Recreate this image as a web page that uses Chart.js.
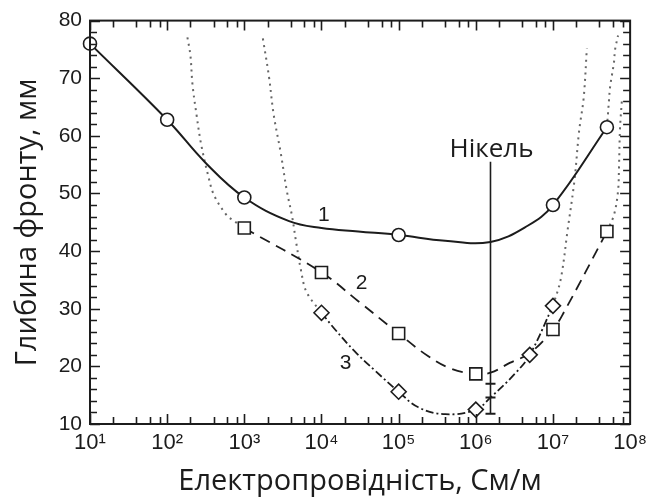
<!DOCTYPE html>
<html>
<head>
<meta charset="utf-8">
<script src="https://cdn.jsdelivr.net/npm/chart.js@4.4.1/dist/chart.umd.min.js"></script>
<style>
  html, body { margin: 0; background: #fff; }
  #wrap { width: 653px; height: 502px; }
</style>
</head>
<body>
<div id="wrap"><canvas id="chart"></canvas></div>
<script>
// axis values
let xDecades = [1e1, 1e2, 1e3, 1e4, 1e5, 1e6, 1e7, 1e8];
let xTickLabels = ['10¹', '10²', '10³', '10⁴', '10⁵', '10⁶', '10⁷', '10⁸'];
let yTickValues = [10, 20, 30, 40, 50, 60, 70, 80];

// curve 1 (circles, solid)
let curve1X = [10, 100, 1e3, 1e5, 1e7, 5e7];
let curve1Y = [76, 62.8, 49.3, 42.8, 48, 61.5];
let curve1LineX = [10, 100, 316, 1e3, 3800, 1e4, 3e4, 1e5, 4e5, 1.55e6, 4.7e6, 1e7, 5e7];
let curve1LineY = [76, 62.8, 55.3, 49.3, 45.2, 44, 43.4, 42.8, 41.8, 41.6, 44.4, 48, 61.5];

// curve 2 (squares, dashed)
let curve2X = [1e3, 1e4, 1e5, 1e6, 1e7, 5e7];
let curve2Y = [44, 36.3, 25.7, 18.7, 26.4, 43.4];
let curve2LineX = [1e3, 1e4, 3e4, 1e5, 2.4e5, 4.8e5, 1e6, 1.55e6, 2.75e6, 5e6, 1e7, 1.4e7, 5e7];
let curve2LineY = [44, 36.3, 31.3, 25.7, 21.8, 19.6, 18.7, 18.9, 20.6, 22.3, 26.4, 29.5, 43.4];

// curve 3 (diamonds, dash-dot)
let curve3X = [1e4, 1e5, 1e6, 5e6, 1e7];
let curve3Y = [29.3, 15.6, 12.5, 22, 30.5];
let curve3LineX = [1e4, 1.5e4, 2.7e4, 5e4, 1e5, 1.8e5, 4e5, 1e6, 1.55e6, 3.2e6, 5e6, 1e7];
let curve3LineY = [29.3, 26.4, 22.6, 19.2, 15.6, 12.9, 11.7, 12.5, 14.6, 18.7, 22, 30.5];

// dotted limit curves
let dotAX = [183, 200, 213, 240, 275, 340, 405, 585, 740, 1e3];
let dotAY = [77.1, 74, 68.9, 63.7, 58.6, 53.1, 49.7, 46.3, 45.2, 44];
let dotBX = [1740, 2090, 2400, 2950, 3550, 4150, 4700, 5400, 6400, 1e4];
let dotBY = [76.9, 70.2, 63.7, 57.2, 50.5, 46.1, 41.5, 36.8, 32.9, 29.3];
let dotCX = [1e7, 1.26e7, 1.55e7, 1.9e7, 2.18e7, 2.5e7, 2.75e7];
let dotCY = [30.5, 35.1, 43.7, 52.3, 60.8, 66.6, 75.2];
let dotDX = [5e7, 5.18e7, 5.33e7, 5.49e7, 5.82e7, 6.18e7, 6.37e7, 6.97e7];
let dotDY = [61.5, 64.1, 66.3, 68.4, 70.6, 72.8, 74.9, 77.4];
let dotEX = [5e7, 6.18e7, 6.97e7, 7.18e7, 7.39e7, 7.83e7];
let dotEY = [43.4, 46.3, 50.4, 54.8, 61.2, 66.3];

// nickel marker
let nickelX = 1.55e6;
let nickelY = [55.5, 11.8];
let nickelErrY = [17, 14.6, 11.8];

// text labels on the plot (data coords)
let noteText = ['1', '2', '3', 'Нікель'];
let noteX = [1.07e4, 3.3e4, 2.05e4, 1.6e6];
let noteY = [46.3, 34.5, 20.6, 57.7];

function pts(xs, ys) {
    return xs.map((x, i) => ({x: x, y: ys[i]}));
}

let ink = '#1c1c1c';
let tickFont = '"Liberation Sans", Arial, sans-serif';
let textFont = '"Open Sans", "Noto Sans", sans-serif';

// frame, inward ticks on all four sides, and the text notes
let framePlugin = {
    id: 'frame',
    afterDraw(chart) {
        let ctx = chart.ctx;
        let a = chart.chartArea;
        let xs = chart.scales.x;
        let ys = chart.scales.y;
        ctx.save();
        ctx.strokeStyle = ink;
        ctx.lineWidth = 1.6;
        // x ticks
        for (let d = 10; d < 1e8; d *= 10) {
            [1, 2, 4, 6, 8].forEach(m => {
                let v = d * m;
                let px = Math.round(xs.getPixelForValue(v)) + 0.5;
                let len = m === 1 ? 10 : 7;
                ctx.beginPath();
                ctx.moveTo(px, a.bottom); ctx.lineTo(px, a.bottom - len);
                ctx.moveTo(px, a.top); ctx.lineTo(px, a.top + len);
                ctx.stroke();
            });
        }
        // y ticks
        for (let v = 10; v <= 80; v += 2) {
            let py = Math.round(ys.getPixelForValue(v)) + 0.5;
            let len = v % 10 === 0 ? 10 : 7;
            ctx.beginPath();
            ctx.moveTo(a.left, py); ctx.lineTo(a.left + len, py);
            ctx.moveTo(a.right, py); ctx.lineTo(a.right - len, py);
            ctx.stroke();
        }
        ctx.lineWidth = 2;
        ctx.strokeRect(a.left, a.top, a.right - a.left, a.bottom - a.top);

        // notes
        ctx.fillStyle = ink;
        ctx.textAlign = 'center';
        ctx.textBaseline = 'middle';
        noteText.forEach((t, i) => {
            ctx.font = t.length > 1 ? '26px ' + textFont : '21px ' + tickFont;
            ctx.fillText(t, xs.getPixelForValue(noteX[i]), ys.getPixelForValue(noteY[i]));
        });
        ctx.restore();
    }
};

let lineBase = {showLine: true, pointRadius: 0, fill: false, borderColor: ink, order: 2};
let dotBase = {showLine: true, pointRadius: 0, fill: false, borderColor: '#666', borderWidth: 2,
    borderDash: [2, 4.5], tension: 0.35, order: 3};
let markBase = {showLine: false, backgroundColor: '#fff', borderColor: ink, borderWidth: 1.6, order: 0, clip: false};

let chart = new Chart(document.querySelector('#chart').getContext('2d'), {
    type: 'scatter',
    data: {
        datasets: [
            Object.assign({}, markBase, {label: '1', data: pts(curve1X, curve1Y), pointStyle: 'circle', pointRadius: 6.5}),
            Object.assign({}, markBase, {label: '2', data: pts(curve2X, curve2Y), pointStyle: 'rect', pointRadius: 8.5}),
            Object.assign({}, markBase, {label: '3', data: pts(curve3X, curve3Y), pointStyle: 'rectRot', pointRadius: 7.5}),
            Object.assign({}, lineBase, {data: pts(curve1LineX, curve1LineY), borderWidth: 2, tension: 0.4}),
            Object.assign({}, lineBase, {data: pts(curve2LineX, curve2LineY), borderWidth: 1.8, borderDash: [11, 7], tension: 0.4}),
            Object.assign({}, lineBase, {data: pts(curve3LineX, curve3LineY), borderWidth: 1.8, borderDash: [8, 3, 2, 3], tension: 0.4}),
            Object.assign({}, dotBase, {data: pts(dotAX, dotAY)}),
            Object.assign({}, dotBase, {data: pts(dotBX, dotBY)}),
            Object.assign({}, dotBase, {data: pts(dotCX, dotCY)}),
            Object.assign({}, dotBase, {data: pts(dotDX, dotDY)}),
            Object.assign({}, dotBase, {data: pts(dotEX, dotEY)}),
            // nickel vertical line + error ticks
            Object.assign({}, lineBase, {data: nickelY.map(y => ({x: nickelX, y: y})), borderWidth: 1.6, order: 1}),
            {data: nickelErrY.map(y => ({x: nickelX, y: y})), pointStyle: 'line', pointRadius: 5,
             borderColor: ink, borderWidth: 2, showLine: false, order: 1}
        ]
    },
    options: {
        responsive: true,
        maintainAspectRatio: false,
        animation: false,
        layout: {padding: {left: 0, top: 15, right: 20, bottom: 0}, autoPadding: false},
        plugins: {
            legend: {display: false},
            tooltip: {enabled: false}
        },
        scales: {
            x: {
                type: 'logarithmic',
                min: 10,
                max: 1e8,
                afterBuildTicks: s => { s.ticks = xDecades.map(v => ({value: v})); },
                afterFit: s => { s.height = 78; },
                grid: {display: false, drawTicks: false},
                border: {display: false},
                ticks: {
                    padding: 6, autoSkip: false, maxRotation: 0, color: ink,
                    font: {family: tickFont, size: 22},
                    callback: (v, i) => xTickLabels[i]
                },
                title: {
                    display: true, text: 'Електропровідність, См/м', color: ink,
                    font: {family: textFont, size: 29, lineHeight: 1.2},
                    padding: {top: 0, bottom: 3}
                }
            },
            y: {
                min: 10,
                max: 80,
                afterBuildTicks: s => { s.ticks = yTickValues.map(v => ({value: v})); },
                afterFit: s => { s.width = 90; },
                grid: {display: false, drawTicks: false},
                border: {display: false},
                ticks: {
                    padding: 8, color: ink,
                    font: {family: tickFont, size: 21}
                },
                title: {
                    display: true, text: 'Глибина фронту, мм', color: ink,
                    font: {family: textFont, size: 29, lineHeight: 1.2},
                    padding: {top: 10, bottom: 0}
                }
            }
        }
    },
    plugins: [framePlugin]
});
</script>
</body>
</html>
